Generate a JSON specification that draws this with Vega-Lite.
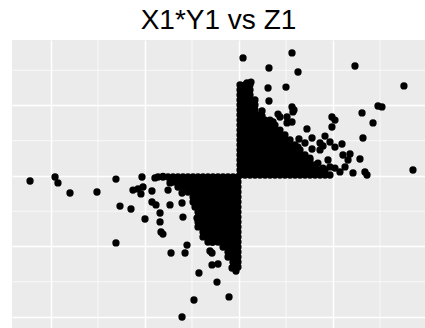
{
"$schema": "https://vega.github.io/schema/vega-lite/v6.json",
"width": 413, "height": 288,
"autosize": {"type": "none"},
"padding": {"left": 12, "top": 40, "right": 0, "bottom": 0},
"background": "white",
"title": {"text": "X1*Y1 vs Z1", "font": "Liberation Sans", "fontSize": 28, "fontWeight": "normal", "color": "black", "anchor": "middle", "frame": "group", "baseline": "top", "offset": 5},
"config": {"view": {"fill": "#EBEBEB", "stroke": null}, "axis": {"domain": false, "ticks": false, "labels": false, "title": null, "grid": true, "gridColor": "white", "gridWidth": 1.5}},
"datasets": {
"gx": [{"v": -1.5}, {"v": -0.5}, {"v": 0.5}, {"v": 1.5}],
"gy": [{"v": 1.5}, {"v": 0.5}, {"v": -0.5}, {"v": -1.5}],
"pts": [
{"x":0.011,"y":1.291},{"x":0.064,"y":1.291},{"x":0.117,"y":1.291},
{"x":0.011,"y":1.22},{"x":0.064,"y":1.22},{"x":0.117,"y":1.22},
{"x":0.011,"y":1.149},{"x":0.064,"y":1.149},{"x":0.117,"y":1.149},
{"x":0.011,"y":1.078},{"x":0.064,"y":1.078},{"x":0.117,"y":1.078},{"x":0.17,"y":1.078},
{"x":0.011,"y":1.007},{"x":0.064,"y":1.007},{"x":0.117,"y":1.007},{"x":0.17,"y":1.007},
{"x":0.011,"y":0.936},{"x":0.064,"y":0.936},{"x":0.117,"y":0.936},{"x":0.17,"y":0.936},
{"x":0.011,"y":0.865},{"x":0.064,"y":0.865},{"x":0.117,"y":0.865},{"x":0.17,"y":0.865},{"x":0.223,"y":0.865},
{"x":0.011,"y":0.794},{"x":0.064,"y":0.794},{"x":0.117,"y":0.794},{"x":0.17,"y":0.794},{"x":0.223,"y":0.794},{"x":0.277,"y":0.794},{"x":0.33,"y":0.794},
{"x":0.011,"y":0.723},{"x":0.064,"y":0.723},{"x":0.117,"y":0.723},{"x":0.17,"y":0.723},{"x":0.223,"y":0.723},{"x":0.277,"y":0.723},{"x":0.33,"y":0.723},{"x":0.383,"y":0.723},
{"x":0.011,"y":0.652},{"x":0.064,"y":0.652},{"x":0.117,"y":0.652},{"x":0.17,"y":0.652},{"x":0.223,"y":0.652},{"x":0.277,"y":0.652},{"x":0.33,"y":0.652},{"x":0.383,"y":0.652},{"x":0.436,"y":0.652},
{"x":0.011,"y":0.582},{"x":0.064,"y":0.582},{"x":0.117,"y":0.582},{"x":0.17,"y":0.582},{"x":0.223,"y":0.582},{"x":0.277,"y":0.582},{"x":0.33,"y":0.582},{"x":0.383,"y":0.582},{"x":0.436,"y":0.582},{"x":0.489,"y":0.582},
{"x":0.011,"y":0.511},{"x":0.064,"y":0.511},{"x":0.117,"y":0.511},{"x":0.17,"y":0.511},{"x":0.223,"y":0.511},{"x":0.277,"y":0.511},{"x":0.33,"y":0.511},{"x":0.383,"y":0.511},{"x":0.436,"y":0.511},{"x":0.489,"y":0.511},{"x":0.543,"y":0.511},
{"x":0.011,"y":0.44},{"x":0.064,"y":0.44},{"x":0.117,"y":0.44},{"x":0.17,"y":0.44},{"x":0.223,"y":0.44},{"x":0.277,"y":0.44},{"x":0.33,"y":0.44},{"x":0.383,"y":0.44},{"x":0.436,"y":0.44},{"x":0.489,"y":0.44},{"x":0.543,"y":0.44},{"x":0.596,"y":0.44},
{"x":0.011,"y":0.369},{"x":0.064,"y":0.369},{"x":0.117,"y":0.369},{"x":0.17,"y":0.369},{"x":0.223,"y":0.369},{"x":0.277,"y":0.369},{"x":0.33,"y":0.369},{"x":0.383,"y":0.369},{"x":0.436,"y":0.369},{"x":0.489,"y":0.369},{"x":0.543,"y":0.369},{"x":0.596,"y":0.369},{"x":0.649,"y":0.369},
{"x":0.011,"y":0.298},{"x":0.064,"y":0.298},{"x":0.117,"y":0.298},{"x":0.17,"y":0.298},{"x":0.223,"y":0.298},{"x":0.277,"y":0.298},{"x":0.33,"y":0.298},{"x":0.383,"y":0.298},{"x":0.436,"y":0.298},{"x":0.489,"y":0.298},{"x":0.543,"y":0.298},{"x":0.596,"y":0.298},{"x":0.649,"y":0.298},{"x":0.702,"y":0.298},
{"x":0.011,"y":0.227},{"x":0.064,"y":0.227},{"x":0.117,"y":0.227},{"x":0.17,"y":0.227},{"x":0.223,"y":0.227},{"x":0.277,"y":0.227},{"x":0.33,"y":0.227},{"x":0.383,"y":0.227},{"x":0.436,"y":0.227},{"x":0.489,"y":0.227},{"x":0.543,"y":0.227},{"x":0.596,"y":0.227},{"x":0.649,"y":0.227},{"x":0.702,"y":0.227},{"x":0.755,"y":0.227},
{"x":0.011,"y":0.156},{"x":0.064,"y":0.156},{"x":0.117,"y":0.156},{"x":0.17,"y":0.156},{"x":0.223,"y":0.156},{"x":0.277,"y":0.156},{"x":0.33,"y":0.156},{"x":0.383,"y":0.156},{"x":0.436,"y":0.156},{"x":0.489,"y":0.156},{"x":0.543,"y":0.156},{"x":0.596,"y":0.156},{"x":0.649,"y":0.156},{"x":0.702,"y":0.156},{"x":0.755,"y":0.156},{"x":0.809,"y":0.156},
{"x":0.011,"y":0.085},{"x":0.064,"y":0.085},{"x":0.117,"y":0.085},{"x":0.17,"y":0.085},{"x":0.223,"y":0.085},{"x":0.277,"y":0.085},{"x":0.33,"y":0.085},{"x":0.383,"y":0.085},{"x":0.436,"y":0.085},{"x":0.489,"y":0.085},{"x":0.543,"y":0.085},{"x":0.596,"y":0.085},{"x":0.649,"y":0.085},{"x":0.702,"y":0.085},{"x":0.755,"y":0.085},{"x":0.809,"y":0.085},{"x":0.862,"y":0.085},{"x":0.915,"y":0.085},
{"x":0.011,"y":0.014},{"x":0.064,"y":0.014},{"x":0.117,"y":0.014},{"x":0.17,"y":0.014},{"x":0.223,"y":0.014},{"x":0.277,"y":0.014},{"x":0.33,"y":0.014},{"x":0.383,"y":0.014},{"x":0.436,"y":0.014},{"x":0.489,"y":0.014},{"x":0.543,"y":0.014},{"x":0.596,"y":0.014},{"x":0.649,"y":0.014},{"x":0.702,"y":0.014},{"x":0.755,"y":0.014},{"x":0.809,"y":0.014},{"x":0.862,"y":0.014},{"x":0.915,"y":0.014},{"x":0.968,"y":0.014},
{"x":0.043,"y":1.674},{"x":0.564,"y":1.745},{"x":0.319,"y":1.532},{"x":0.628,"y":1.475},{"x":1.234,"y":1.56},{"x":1.755,"y":1.277},{"x":0.309,"y":1.248},{"x":0.5,"y":1.262},{"x":0.319,"y":1.064},{"x":0.085,"y":1.319},{"x":0.128,"y":1.333},{"x":0.032,"y":1.262},
{"x":0.245,"y":0.922},{"x":0.564,"y":0.979},{"x":0.585,"y":0.936},{"x":0.415,"y":0.879},{"x":0.511,"y":0.837},{"x":0.436,"y":0.837},{"x":0.362,"y":0.766},{"x":0.511,"y":0.752},
{"x":1.479,"y":0.993},{"x":1.521,"y":0.979},{"x":1.309,"y":0.894},{"x":1.426,"y":0.752},{"x":0.989,"y":0.837},{"x":1.021,"y":0.794},{"x":0.989,"y":0.695},{"x":1.319,"y":0.539},
{"x":0.574,"y":0.908},{"x":0.564,"y":0.766},{"x":0.723,"y":0.667},{"x":0.777,"y":0.539},{"x":0.915,"y":0.567},{"x":0.638,"y":0.525},{"x":0.702,"y":0.468},{"x":0.862,"y":0.468},{"x":0.968,"y":0.482},{"x":1.096,"y":0.454},{"x":0.894,"y":0.426},{"x":0.777,"y":0.383},{"x":0.862,"y":0.369},{"x":1.021,"y":0.411},{"x":0.628,"y":0.411},
{"x":1.106,"y":0.298},{"x":1.181,"y":0.312},{"x":1.287,"y":0.241},{"x":1.16,"y":0.227},{"x":1.128,"y":0.128},{"x":1.213,"y":0.043},{"x":1.34,"y":0.057},{"x":1.362,"y":0.014},{"x":1.851,"y":0.085},
{"x":0.894,"y":0.113},{"x":0.968,"y":0.128},{"x":0.83,"y":0.085},{"x":1.021,"y":0.113},{"x":1.074,"y":0.057},{"x":0.755,"y":0.255},{"x":0.84,"y":0.184},{"x":0.947,"y":0.227},{"x":0.649,"y":0.255},
{"x":0.245,"y":0.851},{"x":0.309,"y":0.681},{"x":0.383,"y":0.624},
{"x":-0.011,"y":-0.014},{"x":-0.064,"y":-0.014},{"x":-0.117,"y":-0.014},{"x":-0.17,"y":-0.014},{"x":-0.223,"y":-0.014},{"x":-0.277,"y":-0.014},{"x":-0.33,"y":-0.014},{"x":-0.383,"y":-0.014},{"x":-0.436,"y":-0.014},{"x":-0.489,"y":-0.014},{"x":-0.543,"y":-0.014},{"x":-0.596,"y":-0.014},{"x":-0.649,"y":-0.014},{"x":-0.702,"y":-0.014},{"x":-0.755,"y":-0.014},{"x":-0.809,"y":-0.014},{"x":-0.862,"y":-0.014},
{"x":-0.011,"y":-0.085},{"x":-0.064,"y":-0.085},{"x":-0.117,"y":-0.085},{"x":-0.17,"y":-0.085},{"x":-0.223,"y":-0.085},{"x":-0.277,"y":-0.085},{"x":-0.33,"y":-0.085},{"x":-0.383,"y":-0.085},{"x":-0.436,"y":-0.085},{"x":-0.489,"y":-0.085},{"x":-0.543,"y":-0.085},{"x":-0.596,"y":-0.085},{"x":-0.649,"y":-0.085},{"x":-0.702,"y":-0.085},
{"x":-0.011,"y":-0.156},{"x":-0.064,"y":-0.156},{"x":-0.117,"y":-0.156},{"x":-0.17,"y":-0.156},{"x":-0.223,"y":-0.156},{"x":-0.277,"y":-0.156},{"x":-0.33,"y":-0.156},{"x":-0.383,"y":-0.156},{"x":-0.436,"y":-0.156},{"x":-0.489,"y":-0.156},{"x":-0.543,"y":-0.156},{"x":-0.596,"y":-0.156},{"x":-0.649,"y":-0.156},
{"x":-0.011,"y":-0.227},{"x":-0.064,"y":-0.227},{"x":-0.117,"y":-0.227},{"x":-0.17,"y":-0.227},{"x":-0.223,"y":-0.227},{"x":-0.277,"y":-0.227},{"x":-0.33,"y":-0.227},{"x":-0.383,"y":-0.227},{"x":-0.436,"y":-0.227},{"x":-0.489,"y":-0.227},{"x":-0.543,"y":-0.227},
{"x":-0.011,"y":-0.298},{"x":-0.064,"y":-0.298},{"x":-0.117,"y":-0.298},{"x":-0.17,"y":-0.298},{"x":-0.223,"y":-0.298},{"x":-0.277,"y":-0.298},{"x":-0.33,"y":-0.298},{"x":-0.383,"y":-0.298},{"x":-0.436,"y":-0.298},{"x":-0.489,"y":-0.298},
{"x":-0.011,"y":-0.369},{"x":-0.064,"y":-0.369},{"x":-0.117,"y":-0.369},{"x":-0.17,"y":-0.369},{"x":-0.223,"y":-0.369},{"x":-0.277,"y":-0.369},{"x":-0.33,"y":-0.369},{"x":-0.383,"y":-0.369},{"x":-0.436,"y":-0.369},{"x":-0.489,"y":-0.369},
{"x":-0.011,"y":-0.44},{"x":-0.064,"y":-0.44},{"x":-0.117,"y":-0.44},{"x":-0.17,"y":-0.44},{"x":-0.223,"y":-0.44},{"x":-0.277,"y":-0.44},{"x":-0.33,"y":-0.44},{"x":-0.383,"y":-0.44},{"x":-0.436,"y":-0.44},
{"x":-0.011,"y":-0.511},{"x":-0.064,"y":-0.511},{"x":-0.117,"y":-0.511},{"x":-0.17,"y":-0.511},{"x":-0.223,"y":-0.511},{"x":-0.277,"y":-0.511},{"x":-0.33,"y":-0.511},{"x":-0.383,"y":-0.511},{"x":-0.436,"y":-0.511},
{"x":-0.011,"y":-0.582},{"x":-0.064,"y":-0.582},{"x":-0.117,"y":-0.582},{"x":-0.17,"y":-0.582},{"x":-0.223,"y":-0.582},{"x":-0.277,"y":-0.582},{"x":-0.33,"y":-0.582},{"x":-0.383,"y":-0.582},{"x":-0.436,"y":-0.582},
{"x":-0.011,"y":-0.652},{"x":-0.064,"y":-0.652},{"x":-0.117,"y":-0.652},{"x":-0.17,"y":-0.652},{"x":-0.223,"y":-0.652},{"x":-0.277,"y":-0.652},{"x":-0.33,"y":-0.652},{"x":-0.383,"y":-0.652},{"x":-0.436,"y":-0.652},
{"x":-0.011,"y":-0.723},{"x":-0.064,"y":-0.723},{"x":-0.117,"y":-0.723},{"x":-0.17,"y":-0.723},{"x":-0.223,"y":-0.723},{"x":-0.277,"y":-0.723},{"x":-0.33,"y":-0.723},{"x":-0.383,"y":-0.723},{"x":-0.436,"y":-0.723},
{"x":-0.011,"y":-0.794},{"x":-0.064,"y":-0.794},{"x":-0.117,"y":-0.794},{"x":-0.17,"y":-0.794},{"x":-0.223,"y":-0.794},{"x":-0.277,"y":-0.794},{"x":-0.33,"y":-0.794},{"x":-0.383,"y":-0.794},
{"x":-0.011,"y":-0.865},{"x":-0.064,"y":-0.865},{"x":-0.117,"y":-0.865},{"x":-0.17,"y":-0.865},{"x":-0.223,"y":-0.865},{"x":-0.277,"y":-0.865},{"x":-0.33,"y":-0.865},{"x":-0.383,"y":-0.865},
{"x":-0.011,"y":-0.936},{"x":-0.064,"y":-0.936},{"x":-0.117,"y":-0.936},{"x":-0.17,"y":-0.936},{"x":-0.223,"y":-0.936},{"x":-0.277,"y":-0.936},{"x":-0.33,"y":-0.936},
{"x":-0.011,"y":-1.007},{"x":-0.064,"y":-1.007},{"x":-0.117,"y":-1.007},{"x":-0.17,"y":-1.007},
{"x":-0.011,"y":-1.078},{"x":-0.064,"y":-1.078},{"x":-0.117,"y":-1.078},
{"x":-0.011,"y":-1.149},{"x":-0.064,"y":-1.149},{"x":-0.117,"y":-1.149},
{"x":-0.011,"y":-1.22},{"x":-0.064,"y":-1.22},
{"x":-0.011,"y":-1.291},{"x":-0.064,"y":-1.291},
{"x":-2.223,"y":-0.071},{"x":-1.957,"y":-0.014},{"x":-1.926,"y":-0.099},{"x":-1.798,"y":-0.241},{"x":-1.511,"y":-0.227},{"x":-1.309,"y":-0.043},{"x":-1.032,"y":-0.014},
{"x":-1.266,"y":-0.426},{"x":-1.149,"y":-0.468},{"x":-1.309,"y":-0.95},{"x":-1.0,"y":-0.61},{"x":-1.128,"y":-0.199},{"x":-1.074,"y":-0.184},{"x":-1.021,"y":-0.156},{"x":-1.043,"y":-0.255},
{"x":-0.926,"y":-0.213},{"x":-0.926,"y":-0.369},{"x":-0.883,"y":-0.411},{"x":-0.894,"y":-0.028},{"x":-0.809,"y":-0.005},{"x":-0.755,"y":-0.199},{"x":-0.734,"y":-0.099},{"x":-0.606,"y":-0.241},
{"x":-0.734,"y":-0.411},{"x":-0.606,"y":-0.383},{"x":-0.596,"y":-0.582},{"x":-0.84,"y":-0.525},{"x":-0.84,"y":-0.652},{"x":-0.83,"y":-0.794},{"x":-0.809,"y":-0.823},
{"x":-0.468,"y":-0.44},{"x":-0.447,"y":-0.596},{"x":-0.553,"y":-0.979},{"x":-0.574,"y":-1.092},{"x":-0.723,"y":-1.092},{"x":-0.287,"y":-1.092},{"x":-0.309,"y":-1.064},
{"x":-0.287,"y":-1.262},{"x":-0.223,"y":-1.248},{"x":-0.426,"y":-1.376},{"x":-0.234,"y":-1.504},{"x":-0.074,"y":-1.305},{"x":-0.032,"y":-1.348},
{"x":-0.479,"y":-1.759},{"x":-0.106,"y":-1.716},{"x":-0.606,"y":-2.0},{"x":-0.287,"y":-0.936}
]
},
"layer": [
{"data": {"name": "gx"}, "mark": {"type": "rule", "color": "white", "strokeWidth": 0.7},
 "encoding": {"x": {"field": "v", "type": "quantitative", "scale": {"domain": [-2.415, 1.979], "nice": false, "zero": false}, "axis": {"values": [-2, -1, 0, 1]}}}},
{"data": {"name": "gy"}, "mark": {"type": "rule", "color": "white", "strokeWidth": 0.7},
 "encoding": {"y": {"field": "v", "type": "quantitative", "scale": {"domain": [-2.156, 1.929], "nice": false, "zero": false}, "axis": {"values": [-2, -1, 0, 1]}}}},
{"data": {"name": "pts"}, "mark": {"type": "circle", "size": 53, "color": "black", "opacity": 1},
 "encoding": {
  "x": {"field": "x", "type": "quantitative", "scale": {"domain": [-2.415, 1.979], "nice": false, "zero": false}, "axis": {"values": [-2, -1, 0, 1]}},
  "y": {"field": "y", "type": "quantitative", "scale": {"domain": [-2.156, 1.929], "nice": false, "zero": false}, "axis": {"values": [-2, -1, 0, 1]}}}}
]
}
